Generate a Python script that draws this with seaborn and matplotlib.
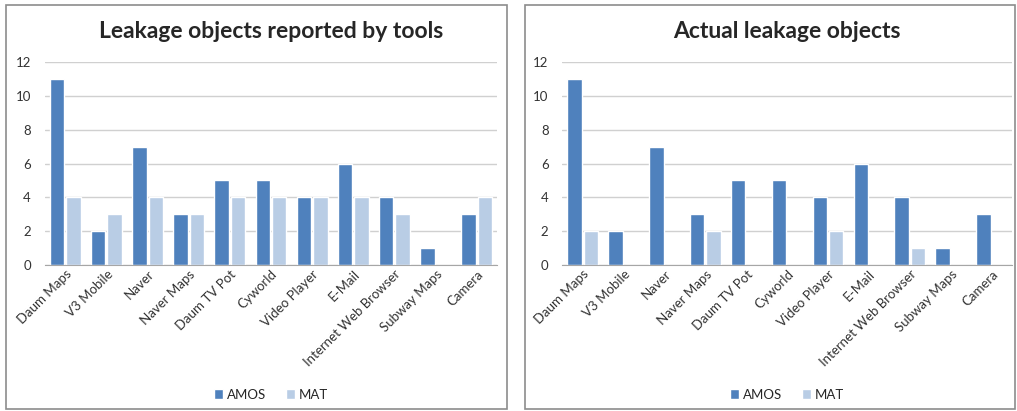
import pandas as pd
import matplotlib.pyplot as plt
import seaborn as sns
from matplotlib.patches import Rectangle

apps = ["Daum Maps", "V3 Mobile", "Naver", "Naver Maps", "Daum TV Pot", "Cyworld",
        "Video Player", "E-Mail", "Internet Web Browser", "Subway Maps", "Camera"]
reported_amos = [11, 2, 7, 3, 5, 5, 4, 6, 4, 1, 3]
reported_mat = [4, 3, 4, 3, 4, 4, 4, 4, 3, 0, 4]
actual_amos = [11, 2, 7, 3, 5, 5, 4, 6, 4, 1, 3]
actual_mat = [2, 0, 0, 2, 0, 0, 2, 0, 1, 0, 0]
titles = ["Leakage objects reported by tools", "Actual leakage objects"]
yticks = [0, 2, 4, 6, 8, 10, 12]

sns.set_style("white")
plt.rcParams['font.family'] = ['Lato', 'DejaVu Sans']

colors = {"AMOS": "#4F81BD", "MAT": "#B9CDE5"}

fig = plt.figure(figsize=(10.17, 4.11), dpi=100)

# panel borders (Excel chart frames)
for x0, w in [(0.006, 0.493), (0.516, 0.482)]:
    fig.patches.append(Rectangle((x0, 0.004), w, 0.984, transform=fig.transFigure,
                                 fill=False, edgecolor="#8C8C8C", linewidth=1.2))

panels = [(reported_amos, reported_mat, [0.044, 0.355, 0.445, 0.494]),
          (actual_amos, actual_mat, [0.553, 0.355, 0.442, 0.494])]

for i, (amos, mat, pos) in enumerate(panels):
    ax = fig.add_axes(pos)
    df = pd.DataFrame({"app": apps * 2,
                       "count": amos + mat,
                       "tool": ["AMOS"] * len(apps) + ["MAT"] * len(apps)})
    sns.barplot(data=df, x="app", y="count", hue="tool", palette=colors,
                width=0.8, gap=0.12, ax=ax, legend=True, saturation=1)
    ax.set_ylim(0, 12)
    ax.set_yticks(yticks)
    ax.set_xlim(-0.5, len(apps) - 0.5)
    ax.yaxis.grid(True, color="#D0D0D0", linewidth=1)
    ax.set_axisbelow(True)
    for s in ["top", "right", "left"]:
        ax.spines[s].set_visible(False)
    ax.spines["bottom"].set_color("#A6A6A6")
    ax.set_xlabel("")
    ax.set_ylabel("")
    ax.tick_params(axis="y", length=0, labelsize=9.5, pad=10, colors="#333333")
    ax.tick_params(axis="x", length=0, labelsize=9.5, pad=2, colors="#333333")
    plt.setp(ax.get_xticklabels(), rotation=45, ha="right", rotation_mode="anchor")
    ax.set_title(titles[i], fontsize=16.5, fontweight="bold", pad=17)
    ax.legend(loc="upper center", bbox_to_anchor=(0.5, -0.55), ncol=2, frameon=False,
              fontsize=9.5, handlelength=0.7, handleheight=0.7, handletextpad=0.3,
              columnspacing=1.5)

fig.savefig("out.png", dpi=100)
